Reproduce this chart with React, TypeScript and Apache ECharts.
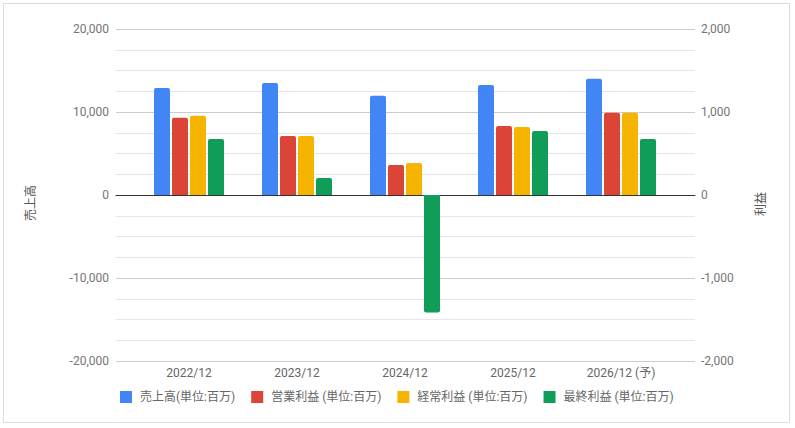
import React, { useEffect, useRef } from "react";
import * as echarts from "echarts";

const categories = ["2022/12", "2023/12", "2024/12", "2025/12", "2026/12 (予)"];
const sales = [12900, 13500, 11950, 13250, 14000];
const operatingProfit = [930, 710, 360, 830, 990];
const ordinaryProfit = [955, 710, 385, 820, 990];
const netProfit = [675, 205, -1415, 770, 675];
const seriesNames = [
  "売上高(単位:百万)",
  "営業利益 (単位:百万)",
  "経常利益 (単位:百万)",
  "最終利益 (単位:百万)",
];
const colors = ["#4285F4", "#DB4437", "#F4B400", "#0F9D58"];
const salesRange = [-20000, 20000];
const profitRange = [-2000, 2000];

const FONT = "Roboto, 'Noto Sans CJK JP', sans-serif";

export default function App() {
  const ref = useRef<HTMLDivElement>(null);
  useEffect(() => {
    if (!ref.current) return;
    const chart = echarts.init(ref.current, undefined, { renderer: "svg" });
    const barStyle = (v: number) => ({
      value: v,
      itemStyle: { borderRadius: v >= 0 ? [2, 2, 0, 0] : [0, 0, 2, 2] },
    });
    const mkBar = (name: string, data: number[], yAxisIndex: number, color: string) => ({
      name,
      type: "bar",
      xAxisIndex: 1,
      yAxisIndex,
      data: data.map(barStyle),
      barWidth: 16,
      barGap: "12.5%",
      itemStyle: { color },
    });
    const hiddenY = (gridIndex: number, range: number[], interval: number) => ({
      type: "value",
      gridIndex,
      min: range[0],
      max: range[1],
      interval,
      show: false,
    });
    chart.setOption({
      animation: false,
      color: colors,
      textStyle: { fontFamily: FONT },
      grid: [
        { left: 116, right: 100, top: 29, bottom: 67 },
        { left: 135, right: 120, top: 29, bottom: 67 },
      ],
      legend: {
        left: 120,
        top: 391,
        padding: 0,
        itemWidth: 12,
        itemHeight: 12,
        itemGap: 16,
        icon: "rect",
        textStyle: { fontSize: 12, color: "#666", fontFamily: FONT, padding: [0, 0, 0, 3] },
        data: seriesNames,
      },
      xAxis: [
        {
          type: "value",
          gridIndex: 0,
          min: 0,
          max: 1,
          axisLine: { show: true, onZero: true, lineStyle: { color: "#333", width: 1 } },
          axisTick: { show: false },
          axisLabel: { show: false },
          splitLine: { show: false },
        },
        {
          type: "category",
          gridIndex: 1,
          data: categories,
          axisLine: { show: false },
          axisTick: { show: false },
          axisLabel: { color: "#666", fontSize: 12, margin: 6, fontFamily: FONT },
        },
      ],
      yAxis: [
        {
          type: "value",
          gridIndex: 0,
          min: salesRange[0],
          max: salesRange[1],
          interval: 2500,
          axisLine: { show: false },
          axisTick: { show: false },
          axisLabel: {
            color: "#757575",
            fontSize: 12,
            margin: 7,
            fontFamily: FONT,
            formatter: (v: number) => (v % 10000 === 0 ? v.toLocaleString("en-US") : ""),
          },
          splitLine: {
            lineStyle: { color: ["#cccccc", "#e6e6e6", "#e6e6e6", "#e6e6e6"], width: 1 },
          },
        },
        {
          type: "value",
          gridIndex: 0,
          position: "right",
          min: profitRange[0],
          max: profitRange[1],
          interval: 250,
          axisLine: { show: false },
          axisTick: { show: false },
          splitLine: { show: false },
          axisLabel: {
            color: "#757575",
            fontSize: 12,
            margin: 6,
            fontFamily: FONT,
            formatter: (v: number) => (v % 1000 === 0 ? v.toLocaleString("en-US") : ""),
          },
        },
        hiddenY(1, salesRange, 2500),
        hiddenY(1, profitRange, 250),
      ],
      graphic: [
        {
          type: "rect",
          shape: { x: 3.5, y: 3.5, width: 786, height: 419 },
          style: { fill: "none", stroke: "#dddddd", lineWidth: 1 },
          silent: true,
        },
        {
          type: "text",
          x: 31,
          y: 203,
          rotation: Math.PI / 2,
          style: {
            text: "売上高",
            fontSize: 12,
            fontFamily: FONT,
            fill: "#555",
            textAlign: "center",
            textVerticalAlign: "middle",
          },
        },
        {
          type: "text",
          x: 761,
          y: 204,
          rotation: Math.PI / 2,
          style: {
            text: "利益",
            fontSize: 12,
            fontFamily: FONT,
            fill: "#555",
            textAlign: "center",
            textVerticalAlign: "middle",
          },
        },
      ],
      series: [
        mkBar(seriesNames[0], sales, 2, colors[0]),
        mkBar(seriesNames[1], operatingProfit, 3, colors[1]),
        mkBar(seriesNames[2], ordinaryProfit, 3, colors[2]),
        mkBar(seriesNames[3], netProfit, 3, colors[3]),
      ],
    });
    return () => chart.dispose();
  }, []);
  return (
    <div
      ref={ref}
      style={{ position: "fixed", left: 0, top: 0, width: 795, height: 428, background: "#fff" }}
    />
  );
}
